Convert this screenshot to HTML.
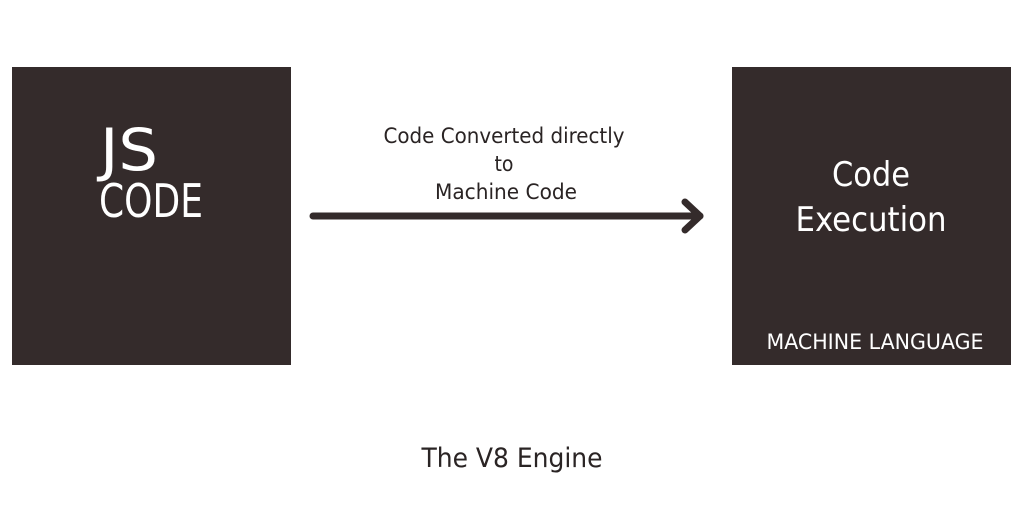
<!DOCTYPE html>
<html><head><style>html,body{margin:0;padding:0;background:#fff}</style></head>
<body>
<svg width="1024" height="500" xmlns="http://www.w3.org/2000/svg" font-family="'DejaVu Sans Condensed','Liberation Sans Narrow','Liberation Sans',sans-serif">
<rect x="12" y="67" width="279" height="298" fill="#342b2b"/>
<rect x="732" y="67" width="279" height="298" fill="#342b2b"/>
<text x="100" y="170" font-size="58" fill="#fff" textLength="58" lengthAdjust="spacingAndGlyphs">JS</text>
<text x="99" y="217" font-size="46" fill="#fff" textLength="104" lengthAdjust="spacingAndGlyphs">CODE</text>
<g fill="#2a2424" font-size="21" text-anchor="middle">
<text x="504" y="143" textLength="241" lengthAdjust="spacingAndGlyphs">Code Converted directly</text>
<text x="504" y="171">to</text>
<text x="506" y="199" textLength="142" lengthAdjust="spacingAndGlyphs">Machine Code</text>
</g>
<line x1="313" y1="216" x2="700" y2="216" stroke="#342b2b" stroke-width="7" stroke-linecap="round"/>
<polyline points="685,202 700,216 685,230" fill="none" stroke="#342b2b" stroke-width="7" stroke-linecap="round" stroke-linejoin="round"/>
<g fill="#fff" text-anchor="middle">
<text x="871" y="186" font-size="34" textLength="78" lengthAdjust="spacingAndGlyphs">Code</text>
<text x="871" y="231" font-size="34" textLength="151" lengthAdjust="spacingAndGlyphs">Execution</text>
<text x="875" y="349" font-size="21" textLength="217" lengthAdjust="spacingAndGlyphs">MACHINE LANGUAGE</text>
</g>
<text x="512" y="467" font-size="27" fill="#2a2424" text-anchor="middle" textLength="181" lengthAdjust="spacingAndGlyphs">The V8 Engine</text>
</svg>
</body></html>
